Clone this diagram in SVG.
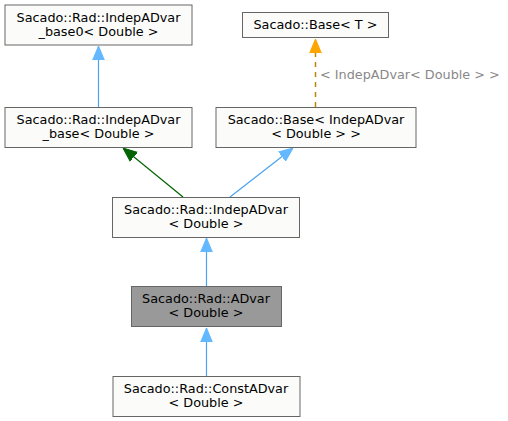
<svg xmlns="http://www.w3.org/2000/svg" width="508" height="421" viewBox="0 0 508 421">
<style>
.n rect{fill:#fbfcfa;stroke:#666666;stroke-width:1}
.n.cur rect{fill:#999999}
text{font-family:"DejaVu Sans","Liberation Sans",sans-serif;font-size:12.8px;fill:#000;text-anchor:middle}
.lbl{fill:#888888;text-anchor:start}
.e{fill:none;stroke-width:1.2}
.blue{stroke:#4aa3ef}
.green{stroke:#006400}
.orange{stroke:#b8860b;stroke-width:1.5;stroke-dasharray:5,5}
</style>
<defs>
<marker id="ab" markerWidth="14" markerHeight="14" viewBox="0 0 14 14" refX="14" refY="7" orient="auto" markerUnits="userSpaceOnUse"><path d="M0,1.2 L14,7 L0,12.8 Z" fill="#63b8ff" stroke="#63b8ff"/></marker>
<marker id="ag" markerWidth="14" markerHeight="14" viewBox="0 0 14 14" refX="14" refY="7" orient="auto" markerUnits="userSpaceOnUse"><path d="M0,1.2 L14,7 L0,12.8 Z" fill="#006400" stroke="#006400"/></marker>
<marker id="ao" markerWidth="14" markerHeight="14" viewBox="0 0 14 14" refX="14" refY="7" orient="auto" markerUnits="userSpaceOnUse"><path d="M0,1.2 L14,7 L0,12.8 Z" fill="#ffa500" stroke="#ffa500"/></marker>
</defs>
<g id="edges">
<line class="e blue" x1="98.5" y1="107" x2="98.5" y2="46" marker-end="url(#ab)"/>
<line class="e orange" x1="315.5" y1="107" x2="315.5" y2="39" marker-end="url(#ao)"/>
<text class="lbl" x="320" y="79">&lt; IndepADvar&lt; Double &gt; &gt;</text>
<line class="e green" x1="183" y1="197" x2="123" y2="148" marker-end="url(#ag)"/>
<line class="e blue" x1="230" y1="197" x2="293" y2="148" marker-end="url(#ab)"/>
<line class="e blue" x1="206.5" y1="286" x2="206.5" y2="238" marker-end="url(#ab)"/>
<line class="e blue" x1="206.5" y1="376" x2="206.5" y2="328" marker-end="url(#ab)"/>
</g>
<g id="node_base0" class="n"><rect x="5" y="5" width="187" height="40"/><text x="98.5" y="22">Sacado::Rad::IndepADvar</text><text x="98.5" y="36">_base0&lt; Double &gt;</text></g>
<g id="node_baseT" class="n"><rect x="242.5" y="12.5" width="146" height="25"/><text x="315.5" y="29">Sacado::Base&lt; T &gt;</text></g>
<g id="node_base" class="n"><rect x="5" y="107.5" width="187" height="40"/><text x="98.5" y="124">Sacado::Rad::IndepADvar</text><text x="98.5" y="138">_base&lt; Double &gt;</text></g>
<g id="node_baseIndep" class="n"><rect x="216" y="107.5" width="200" height="40"/><text x="316" y="124">Sacado::Base&lt; IndepADvar</text><text x="316" y="138">&lt; Double &gt; &gt;</text></g>
<g id="node_indep" class="n"><rect x="112.5" y="197.5" width="187" height="40"/><text x="206" y="214">Sacado::Rad::IndepADvar</text><text x="206" y="228">&lt; Double &gt;</text></g>
<g id="node_advar" class="n cur"><rect x="131.5" y="286.5" width="150" height="40"/><text x="206" y="303">Sacado::Rad::ADvar</text><text x="206" y="317">&lt; Double &gt;</text></g>
<g id="node_const" class="n"><rect x="113" y="376.5" width="187" height="40"/><text x="206" y="393">Sacado::Rad::ConstADvar</text><text x="206" y="407">&lt; Double &gt;</text></g>
</svg>
